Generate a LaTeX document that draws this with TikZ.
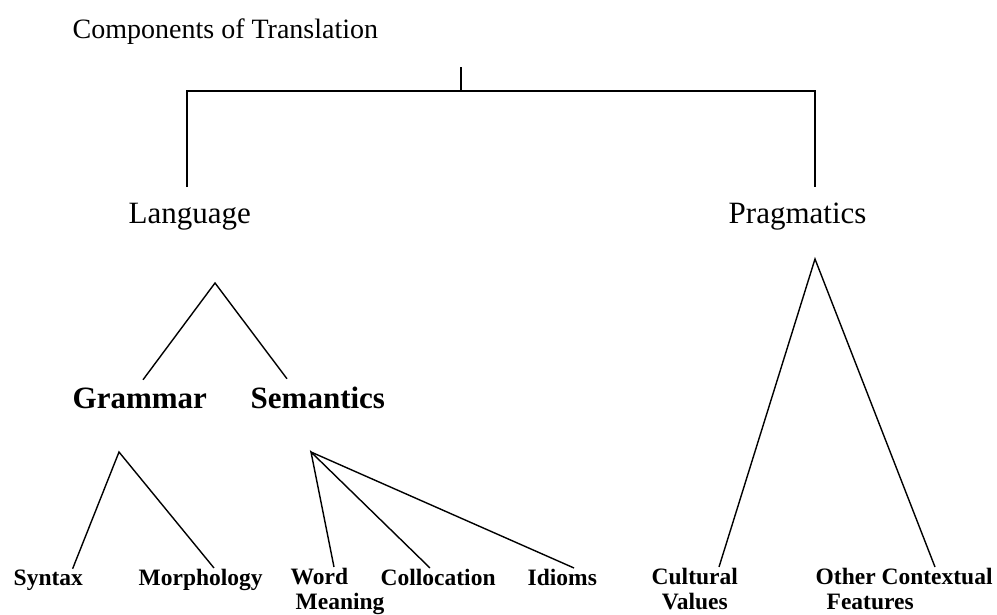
\documentclass[tikz,border=0pt]{standalone}
\usepackage{fontspec}
\setmainfont{Liberation Serif}
\begin{document}
\begin{tikzpicture}[x=1pt,y=-1pt,line width=1.4pt,
	lbl/.style={inner sep=0,anchor=base west},
	big/.style={lbl,font=\fontsize{31}{35}\selectfont},
	mid/.style={lbl,font=\fontsize{31}{35}\selectfont\bfseries},
	small/.style={lbl,align=left,font=\fontsize{23.5}{25}\selectfont\bfseries}]
	\useasboundingbox (0,0) rectangle (997,615);
	% les titres
	\node[lbl,font=\fontsize{28}{32}\selectfont] (title) at (72,39) {Components of Translation};
	\node[big] (lang) at (128,223) {Language};
	\node[big] (prag) at (728,223) {Pragmatics};
	\node[mid] (gram) at (72,408) {Grammar};
	\node[mid] (sem) at (250,408) {Semantics};
	% les feuilles (base = derniere ligne)
	\node[small] (syn) at (13,585) {Syntax};
	\node[small] (morph) at (138,585) {Morphology};
	\node[small] (word) at (290,609) {Word\\\hspace*{5pt}Meaning};
	\node[small] (coll) at (380,585) {Collocation};
	\node[small] (idi) at (527,585) {Idioms};
	\node[small,align=center] (cult) at (651,609) {Cultural\\Values};
	\node[small] (other) at (815,609) {Other Contextual\\\hspace*{11pt}Features};
	% les sommets
	\coordinate (root) at (461,91);
	\coordinate (ltop) at (215,283);
	\coordinate (ptop) at (815,259);
	\coordinate (gtop) at (119,452);
	\coordinate (stop) at (311,452);
	% les traits
	\draw (root) -- ++(0,-24);
	\draw ([xshift=-3pt,yshift=15pt]lang.north) |- (root) -| ([xshift=87pt,yshift=15pt]prag.north west);
	\draw ([xshift=71pt,yshift=7pt]gram.north west) -- (ltop) -- ([xshift=37pt,yshift=7pt]sem.north west);
	\draw ([xshift=-11pt]syn.north east) -- (gtop) -- ([xshift=76pt]morph.north west);
	\draw ([xshift=44pt]word.north west) -- (stop) -- ([xshift=50pt]coll.north west);
	\draw (stop) -- ([xshift=47pt]idi.north west);
	\draw ([xshift=68pt]cult.north west) -- (ptop) -- ([xshift=120pt]other.north west);
\end{tikzpicture}
\end{document}
